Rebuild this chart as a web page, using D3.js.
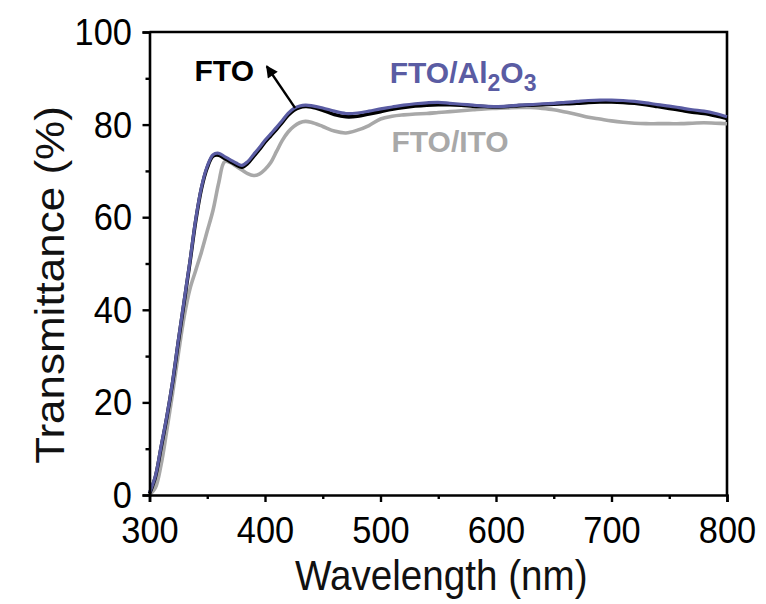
<!DOCTYPE html>
<html>
<head>
<meta charset="utf-8">
<script src="https://d3js.org/d3.v7.min.js"></script>
<style>
html,body{margin:0;padding:0;background:#fff;}
svg{display:block;font-family:"Liberation Sans",Arial,sans-serif;}
</style>
</head>
<body>
<svg id="chart" width="766" height="604"></svg>
<script>
// ---- data ----
const wavelength = [300,305,310,315,320,325,330,335,340,345,350,355,360,365,370,375,380,385,390,395,400,405,410,415,420,425,430,435,440,
  450,460,470,480,490,500,510,520,530,540,550,560,570,580,590,600,610,620,630,640,650,660,670,680,690,700,710,720,730,740,750,760,770,780,790,800];

const fto = [0.3,3.8,10.2,16.8,24.3,33.2,41.7,50.2,59.2,66.2,70.7,73.2,73.4,72.7,72,71.3,70.8,71.6,73.1,74.6,76.2,77.6,79,80.5,82,83.1,83.7,83.9,83.8,
  83.1,82.2,81.7,81.8,82.3,82.8,83.3,83.7,84.0,84.2,84.3,84.3,84.2,84.0,83.9,83.8,83.9,84.1,84.2,84.3,84.4,84.5,84.6,84.8,84.9,84.9,84.8,84.6,84.3,83.9,83.5,83.1,82.7,82.4,81.9,81.3];

const ftoAl2O3 = [0.5,4,10.5,17,24.5,33.5,42,50.5,59.5,66.5,71,73.5,73.8,73.1,72.4,71.7,71.2,72,73.5,75,76.6,78,79.4,80.9,82.4,83.5,84,84.2,84.1,
  83.6,82.9,82.4,82.5,82.9,83.4,83.8,84.2,84.5,84.7,84.8,84.6,84.4,84.2,84.0,83.9,84.0,84.2,84.3,84.5,84.6,84.8,85.0,85.2,85.3,85.3,85.2,85.0,84.7,84.3,84.0,83.6,83.2,82.9,82.4,81.7];

const ftoIto = [0,1.5,6.5,14,22,30.5,38.5,44.5,48.5,52.5,57,61.5,67.5,72,71.8,71,70.2,69.4,69,69.3,70.3,71.8,74.2,76.6,78.4,79.6,80.4,80.7,80.5,
  79.6,78.6,78.2,78.8,79.8,81.2,81.8,82.1,82.3,82.4,82.6,82.8,83.0,83.2,83.4,83.5,83.6,83.7,83.7,83.5,83.2,82.7,82.2,81.6,81.2,80.8,80.5,80.3,80.2,80.2,80.2,80.2,80.3,80.4,80.3,80.2];

const xTicks = [300,400,500,600,700,800];
const xMinorTicks = [350,450,550,650,750];
const yTicks = [0,20,40,60,80,100];
const yMinorTicks = [10,30,50,70,90];

// annotation anchors in data units
const labelFTO = {text:"FTO", wl:339, t:89.4};
const labelAl = {wl:508, t:88.9};
const labelITO = {text:"FTO/ITO", wl:509.5, t:74.1};
const arrowFTO = {from:[426,83.6], to:[401.5,92.6]};

// ---- layout ----
const svg = d3.select("#chart");
const mLeft = 149.5, mRight = 727, mTop = 32, mBottom = 495;
const x = d3.scaleLinear().domain([300,800]).range([mLeft,mRight]);
const y = d3.scaleLinear().domain([0,100]).range([mBottom,mTop]);

const colBlue = "#5a5ca3", colGray = "#a8a8a8", colBlack = "#000";

// frame (top & right)
svg.append("path")
  .attr("d", `M${mLeft},${mTop}H${mRight}V${mBottom}`)
  .attr("fill","none").attr("stroke","#000").attr("stroke-width",2.6);

// lines
const line = (vals) => d3.line()
  .x((d,i)=>x(wavelength[i]))
  .y(d=>y(d))
  .curve(d3.curveCatmullRom.alpha(0.5))(vals);

svg.append("path").attr("d", line(ftoIto)).attr("fill","none").attr("stroke",colGray).attr("stroke-width",3.6);
svg.append("path").attr("d", line(fto)).attr("fill","none").attr("stroke",colBlack).attr("stroke-width",3.6);
svg.append("path").attr("d", line(ftoAl2O3)).attr("fill","none").attr("stroke",colBlue).attr("stroke-width",3.2);

// axes
const tickFont = 37, tickScale = 0.93;
const gx = svg.append("g").attr("transform",`translate(0,${mBottom})`)
  .call(d3.axisBottom(x).tickValues(xTicks).tickSize(7).tickFormat(d3.format("d")));
gx.append("g").call(d3.axisBottom(x).tickValues(xMinorTicks).tickSize(4).tickFormat(""))
  .select(".domain").remove();
const gy = svg.append("g").attr("transform",`translate(${mLeft},0)`)
  .call(d3.axisLeft(y).tickValues(yTicks).tickSize(7).tickFormat(d3.format("d")));
gy.append("g").call(d3.axisLeft(y).tickValues(yMinorTicks).tickSize(4).tickFormat(""))
  .select(".domain").remove();

[gx,gy].forEach(g=>{
  g.selectAll(".domain").attr("stroke","#000").attr("stroke-width",2.6);
  g.selectAll(".tick line").attr("stroke","#000").attr("stroke-width",2.4);
  g.attr("font-family",null).attr("font-size",null);
});
gx.selectAll(".tick text")
  .attr("font-size",tickFont).attr("fill","#000")
  .attr("y",48).attr("dy",0)
  .attr("transform",`scale(${tickScale},1)`);
gy.selectAll(".tick text")
  .attr("font-size",tickFont).attr("fill","#000")
  .attr("x",-17.5/tickScale).attr("dy",0).attr("y",12.5)
  .attr("transform",`scale(${tickScale},1)`);

// axis titles
svg.append("text")
  .attr("transform",`translate(${(mLeft+mRight)/2+3},590) scale(0.92,1)`)
  .attr("text-anchor","middle").attr("font-size",42).attr("fill","#111")
  .text("Wavelength (nm)");
svg.append("text")
  .attr("transform",`translate(64,285) scale(0.92,1) rotate(-90)`)
  .attr("text-anchor","middle").attr("font-size",44).attr("fill","#111")
  .text("Transmittance (%)");

// annotations
svg.append("defs").append("marker")
  .attr("id","ah").attr("viewBox","0 0 10 10").attr("refX",9).attr("refY",5)
  .attr("markerWidth",6).attr("markerHeight",5).attr("markerUnits","strokeWidth").attr("orient","auto")
  .append("path").attr("d","M0,0L10,5L0,10z").attr("fill","#000");
svg.append("line")
  .attr("x1",x(arrowFTO.from[0])).attr("y1",y(arrowFTO.from[1]))
  .attr("x2",x(arrowFTO.to[0])).attr("y2",y(arrowFTO.to[1]))
  .attr("stroke","#000").attr("stroke-width",2.4).attr("marker-end","url(#ah)");

svg.append("text").attr("x",x(labelFTO.wl)).attr("y",y(labelFTO.t))
  .attr("font-size",30).attr("font-weight","bold").attr("fill","#000").text(labelFTO.text);

const tAl = svg.append("text").attr("x",x(labelAl.wl)).attr("y",y(labelAl.t))
  .attr("font-size",30).attr("font-weight","bold").attr("fill",colBlue);
tAl.append("tspan").text("FTO/Al");
tAl.append("tspan").attr("font-size",23).attr("dy",8).text("2");
tAl.append("tspan").attr("dy",-8).text("O");
tAl.append("tspan").attr("font-size",23).attr("dy",8).text("3");

svg.append("text").attr("x",x(labelITO.wl)).attr("y",y(labelITO.t))
  .attr("font-size",30).attr("font-weight","bold").attr("fill",colGray).text(labelITO.text);
</script>
</body>
</html>
